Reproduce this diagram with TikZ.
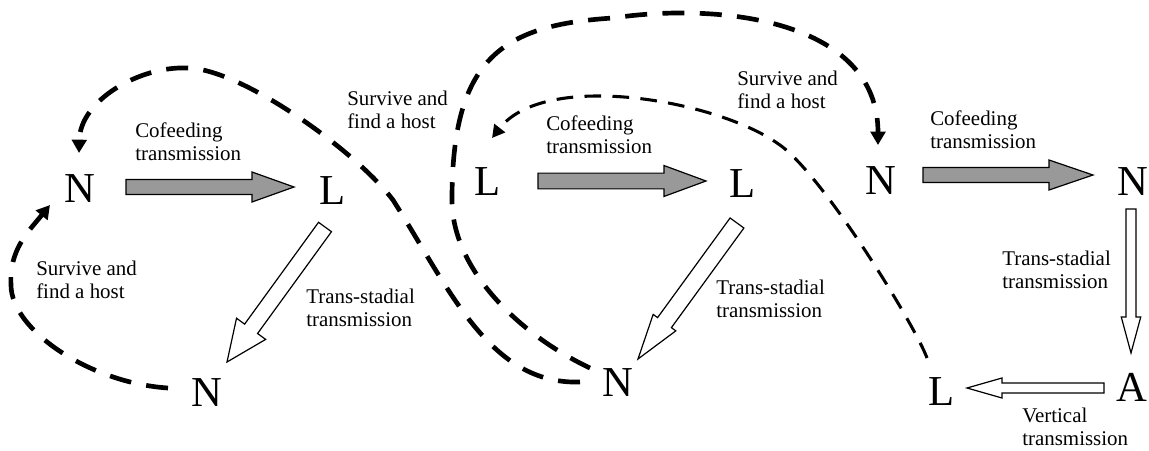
\documentclass[tikz,border=0pt]{standalone}
\usepackage{fontspec}
\setmainfont{Liberation Serif}
\usetikzlibrary{calc,arrows.meta}
\newcommand\blockarrow[8]{%
  \path ($(#1)+(#3)$) coordinate (bas) ($(#2)+(#4)$) coordinate (bae);
  \coordinate (bah) at ($(bae)!#7!(bas)$);
  \draw[#8] ($(bas)!#5!90:(bae)$) -- ($(bah)!#5!90:(bae)$) -- ($(bah)!#6!90:(bae)$)
     -- (bae) -- ($(bah)!#6!-90:(bae)$) -- ($(bah)!#5!-90:(bae)$) -- ($(bas)!#5!-90:(bae)$) -- cycle;
}
\tikzset{
  letter/.style={inner sep=0pt, font=\fontsize{32}{36}\selectfont},
  lab/.style={inner sep=0pt, anchor=base west, align=left, font=\fontsize{15.7}{17.2}\selectfont},
  grayarrow/.style={draw=black, line width=0.9pt, fill=black!40, line join=miter},
  whitearrow/.style={draw=black, line width=0.9pt, fill=white, line join=miter},
  thickdash/.style={line width=3.5pt, dash pattern=on 16.5pt off 11.5pt, -{Triangle[length=10pt,width=11pt]}},
  thindash/.style={line width=2.3pt, dash pattern=on 12.5pt off 8.5pt, -{Triangle[length=9.5pt,width=10pt]}},
}
\begin{document}
\begin{tikzpicture}[x=0.75pt,y=-0.75pt]
\useasboundingbox (0,0) rectangle (1149,450);
% letters
\node[letter] (N1) at (80,189) {N};
\node[letter] (L1) at (333,191) {L};
\node[letter] (Nb) at (207,393) {N};
\node[letter] (L2) at (488,182) {L};
\node[letter] (L3) at (743,184) {L};
\node[letter] (N2) at (618,383) {N};
\node[letter] (N3) at (881,181) {N};
\node[letter] (N4) at (1133,182) {N};
\node[letter] (A)  at (1132,387) {A};
\node[letter] (L4) at (942,392) {L};
% labels (anchor = baseline of the last line)
\node[lab] (c1) at (135,160.7) {Cofeeding\\transmission};
\node[lab] (c2) at (546,153) {Cofeeding\\transmission};
\node[lab] (c3) at (930,148) {Cofeeding\\transmission};
\node[lab] (s1) at (36,298) {Survive and\\find a host};
\node[lab] (s2) at (347,128) {Survive and\\find a host};
\node[lab] (s3) at (737,108) {Survive and\\find a host};
\node[lab] (t1) at (306,326.5) {Trans-stadial\\transmission};
\node[lab] (t2) at (716,317) {Trans-stadial\\transmission};
\node[lab] (t3) at (1002,288) {Trans-stadial\\transmission};
\node[lab] (v1) at (1022,445) {Vertical\\transmission};
% block arrows
\blockarrow{N1}{L1}{46,-2}{-39,-4}{5.6pt}{11.25pt}{31.5pt}{grayarrow}
\blockarrow{L2}{L3}{50,-1}{-37,-3}{5.9pt}{11.6pt}{31.5pt}{grayarrow}
\blockarrow{N3}{N4}{42,-6}{-40,-7}{5.6pt}{11.25pt}{33pt}{grayarrow}
\blockarrow{L1}{Nb}{-8,36}{20,-31}{6pt}{13.5pt}{30.75pt}{whitearrow}
\blockarrow{L3}{N2}{-6,39}{20,-24}{6.4pt}{10.5pt}{33.75pt}{whitearrow}
\blockarrow{N4}{A}{-2,27}{-1,-34}{3.75pt}{7.3pt}{27pt}{whitearrow}
\blockarrow{A}{L4}{-28,1}{25,-4}{3.75pt}{7.5pt}{26.25pt}{whitearrow}
% dashed curves
\draw[thickdash] ($(Nb)+(-39,-5)$) .. controls (90,383) and (11,330) .. (11,285)
   .. controls (9,250) and (28,232) .. ($(N1)+(-30,16)$);
\draw[thickdash] ($(N2)+(-38,-1)$) .. controls (490,385) and (450,290) .. (393,200)
   .. controls (355,150) and (240,68) .. (187,68)
   .. controls (140,66) and (80,100) .. ($(N1)+(-1,-36)$);
\draw[thickdash] ($(N2)+(-28,-15)$) .. controls (520,335) and (452,270) .. (452,200)
   .. controls (452,60) and (500,25) .. (613,18)
   .. controls (720,2) and (878,20) .. ($(N3)+(-3,-36)$);
\draw[thindash] ($(L4)+(-15,-34)$) .. controls (915,325) and (820,170) .. (777,143)
   .. controls (715,100) and (545,70) .. ($(L2)+(4,-44)$);
\end{tikzpicture}
\end{document}
